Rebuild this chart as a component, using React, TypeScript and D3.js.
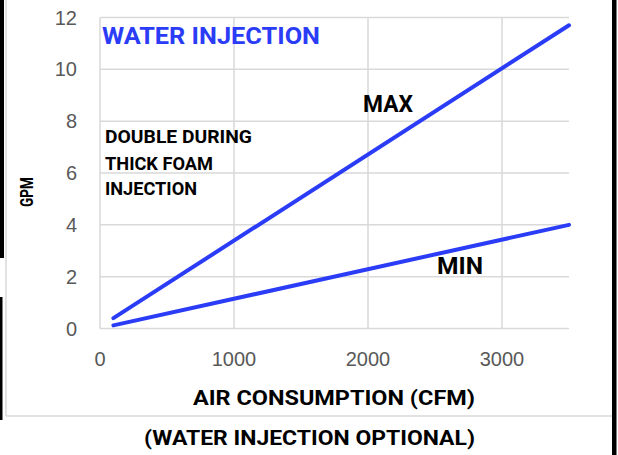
import React from "react";
import * as d3 from "d3";

const xTicks = [0, 1000, 2000, 3000];
const yTicks = [0, 2, 4, 6, 8, 10, 12];
const airCfm = [100, 3500];
const maxGpm = [0.4, 11.7];
const minGpm = [0.12, 4.0];

const W = 618;
const H = 455;
const plot = { left: 100, right: 569, top: 17.5, bottom: 328.5 };
const BLUE = "#2b3cf7";
const GRID = "#d9d9d9";
const TICK = "#595959";
const BOLD_FONT = "Roboto, 'Liberation Sans', sans-serif";
const TICK_FONT = "'Liberation Sans', Arial, sans-serif";

function Bold(props: {
  x: number;
  y: number;
  size: number;
  len: number;
  fill?: string;
  children: string;
}) {
  return (
    <text
      x={props.x}
      y={props.y}
      fontFamily={BOLD_FONT}
      fontWeight="bold"
      fontSize={props.size}
      fill={props.fill || "#000"}
      textLength={props.len}
      lengthAdjust="spacingAndGlyphs"
    >
      {props.children}
    </text>
  );
}

export default function App() {
  const x = d3.scaleLinear().domain([0, 3500]).range([plot.left, plot.right]);
  const y = d3.scaleLinear().domain([0, 12]).range([plot.bottom, plot.top]);
  const line = d3
    .line<[number, number]>()
    .x((d) => x(d[0]))
    .y((d) => y(d[1]));
  const maxPts = airCfm.map((c, i) => [c, maxGpm[i]] as [number, number]);
  const minPts = airCfm.map((c, i) => [c, minGpm[i]] as [number, number]);

  return (
    <svg
      width={W}
      height={H}
      style={{ position: "absolute", left: 0, top: 0, background: "#fff" }}
    >
      <rect x={0} y={0} width={W} height={H} fill="#fff" />
      {/* outer frame bits */}
      <rect x={0} y={0} width={4} height={258} fill="#000" />
      <rect x={0} y={297} width={2.5} height={123} fill="#000" />
      <line x1={6} y1={0} x2={6} y2={416} stroke={GRID} strokeWidth={1.5} />
      <line x1={6} y1={416} x2={612} y2={416} stroke={GRID} strokeWidth={1.5} />
      <rect x={612} y={0} width={4.5} height={H} fill="#000" />

      {/* grid */}
      {yTicks.map((t) => (
        <line
          key={"gy" + t}
          x1={plot.left}
          x2={plot.right}
          y1={y(t)}
          y2={y(t)}
          stroke={GRID}
          strokeWidth={1.5}
        />
      ))}
      {xTicks.map((t) => (
        <line
          key={"gx" + t}
          x1={x(t)}
          x2={x(t)}
          y1={plot.top}
          y2={plot.bottom}
          stroke={GRID}
          strokeWidth={1.5}
        />
      ))}

      {/* tick labels */}
      {yTicks.map((t) => (
        <text
          key={"ty" + t}
          x={77}
          y={y(t)}
          dy="0.35em"
          textAnchor="end"
          fontFamily={TICK_FONT}
          fontSize={20}
          fill={TICK}
        >
          {t}
        </text>
      ))}
      {xTicks.map((t) => (
        <text
          key={"tx" + t}
          x={x(t)}
          y={359}
          dy="0.35em"
          textAnchor="middle"
          fontFamily={TICK_FONT}
          fontSize={20}
          fill={TICK}
        >
          {t}
        </text>
      ))}

      {/* series */}
      <path d={line(maxPts) || ""} fill="none" stroke={BLUE} strokeWidth={4} strokeLinecap="round" />
      <path d={line(minPts) || ""} fill="none" stroke={BLUE} strokeWidth={4} strokeLinecap="round" />

      {/* annotations */}
      <Bold x={102} y={44.3} size={23} len={218} fill={BLUE}>WATER INJECTION</Bold>
      <Bold x={363} y={111.5} size={24} len={50}>MAX</Bold>
      <Bold x={437} y={274} size={24} len={46}>MIN</Bold>
      <Bold x={105} y={143.3} size={18.5} len={147}>DOUBLE DURING</Bold>
      <Bold x={105} y={169.5} size={18.5} len={108}>THICK FOAM</Bold>
      <Bold x={105} y={195} size={18.5} len={92}>INJECTION</Bold>

      {/* axis titles */}
      <g transform="translate(33,207) rotate(-90)">
        <Bold x={0} y={0} size={18} len={30}>GPM</Bold>
      </g>
      <Bold x={193} y={405} size={21} len={282}>AIR CONSUMPTION (CFM)</Bold>
      <Bold x={144} y={445} size={21} len={331}>(WATER INJECTION OPTIONAL)</Bold>
    </svg>
  );
}
